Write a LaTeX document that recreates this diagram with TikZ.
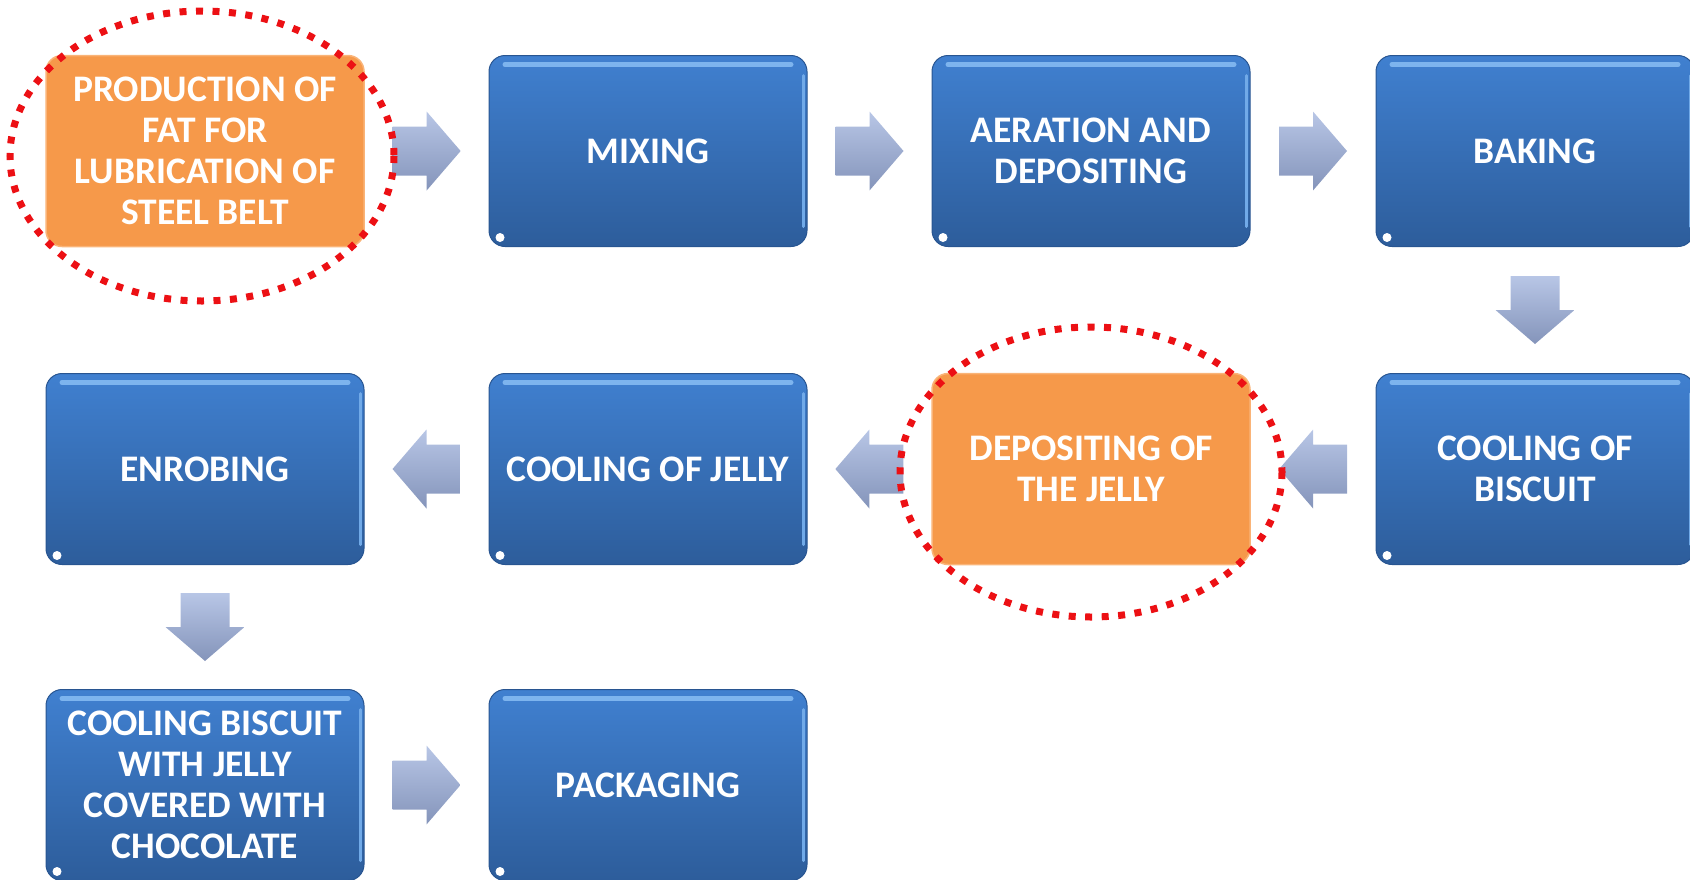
\documentclass[tikz,border=0pt]{standalone}
\usepackage{fontspec}
\setmainfont{Carlito}
\usetikzlibrary{calc}
\definecolor{bluetop}{RGB}{64,128,208}
\definecolor{bluebot}{RGB}{45,93,155}
\definecolor{blueedge}{RGB}{40,85,145}
\definecolor{hlblue}{RGB}{125,180,238}
\definecolor{orng}{RGB}{246,153,74}
\definecolor{orngedge}{RGB}{250,180,120}
\definecolor{arrtop}{RGB}{184,198,230}
\definecolor{arrbot}{RGB}{132,148,186}
\definecolor{dotred}{RGB}{236,16,20}
\begin{document}
\begin{tikzpicture}[x=1pt,y=-1pt,
  basebox/.style={rectangle, rounded corners=16pt, minimum width=318pt,
    minimum height=191pt, inner sep=0pt, align=center, text=white,
    font=\fontsize{37.5}{41}\selectfont\bfseries},
  bluebox/.style={basebox, top color=bluetop, bottom color=bluebot,
    draw=blueedge, line width=1pt,
    path picture={
      \draw[line width=5pt, color=hlblue, line cap=round]
        ($(path picture bounding box.north west)+(16,9)$) --
        ($(path picture bounding box.north east)+(-16,9)$);
      \draw[line width=3pt, color=hlblue!80!bluetop, line cap=round]
        ($(path picture bounding box.north east)+(-4,20)$) --
        ($(path picture bounding box.south east)+(-4,-20)$);
      \fill[white] ($(path picture bounding box.south west)+(11,-9)$) circle (4.5);
    }},
  hotbox/.style={basebox, fill=orng, draw=orngedge, line width=1.5pt},
  arrowshade/.style={top color=arrtop, bottom color=arrbot, draw=none},
  rarrow/.pic={\path[arrowshade] (-34,-24.5) -- (0,-24.5) -- (0,-39.5) -- (34,0)
      -- (0,39.5) -- (0,24.5) -- (-34,24.5) -- cycle;},
  larrow/.pic={\path[arrowshade] (34,-24.5) -- (0,-24.5) -- (0,-39.5) -- (-34,0)
      -- (0,39.5) -- (0,24.5) -- (34,24.5) -- cycle;},
  darrow/.pic={\path[arrowshade] (-24.5,-34) -- (24.5,-34) -- (24.5,0) -- (39.5,0)
      -- (0,34) -- (-39.5,0) -- (-24.5,0) -- cycle;},
  reddots/.style={draw=dotred, line width=7pt, dash pattern=on 7pt off 9.5pt}
]
\useasboundingbox (0,0) rectangle (1690,879);

% boxes
\node[hotbox]  (fat)   at (205,151)  {PRODUCTION OF\\FAT FOR\\LUBRICATION OF\\STEEL BELT};
\node[bluebox] (mix)   at (648,151)  {MIXING};
\node[bluebox] (aer)   at (1091,151) {AERATION AND\\DEPOSITING};
\node[bluebox] (bake)  at (1535,151) {BAKING};
\node[bluebox] (coolb) at (1535,469) {COOLING OF\\BISCUIT};
\node[hotbox]  (dep)   at (1091,469) {DEPOSITING OF\\THE JELLY};
\node[bluebox] (coolj) at (648,469)  {COOLING OF JELLY};
\node[bluebox] (enr)   at (205,469)  {ENROBING};
\node[bluebox] (coolc) at (205,785) {COOLING BISCUIT\\WITH JELLY\\COVERED WITH\\CHOCOLATE};
\node[bluebox] (pack)  at (648,785) {PACKAGING};

% block arrows between the named boxes
\coordinate (m1) at ($(fat.east)!0.5!(mix.west)$);
\coordinate (m2) at ($(mix.east)!0.5!(aer.west)$);
\coordinate (m3) at ($(aer.east)!0.5!(bake.west)$);
\coordinate (m4) at ($(bake.south)!0.5!(coolb.north)$);
\coordinate (m5) at ($(coolb.west)!0.5!(dep.east)$);
\coordinate (m6) at ($(dep.west)!0.5!(coolj.east)$);
\coordinate (m7) at ($(coolj.west)!0.5!(enr.east)$);
\coordinate (m8) at ($(enr.south)!0.5!(coolc.north)$);
\coordinate (m9) at ($(coolc.east)!0.5!(pack.west)$);
\pic at (m1) {rarrow};
\pic at (m2) {rarrow};
\pic at (m3) {rarrow};
\pic at (m4) {darrow};
\pic at (m5) {larrow};
\pic at (m6) {larrow};
\pic at (m7) {larrow};
\pic at (m8) {darrow};
\pic at (m9) {rarrow};

% red dotted ellipses
\draw[reddots] ($(fat.center)+(-3,5)$) ellipse [x radius=192, y radius=145];
\draw[reddots] ($(dep.center)+(0,3)$) ellipse [x radius=191, y radius=145];
\end{tikzpicture}
\end{document}
